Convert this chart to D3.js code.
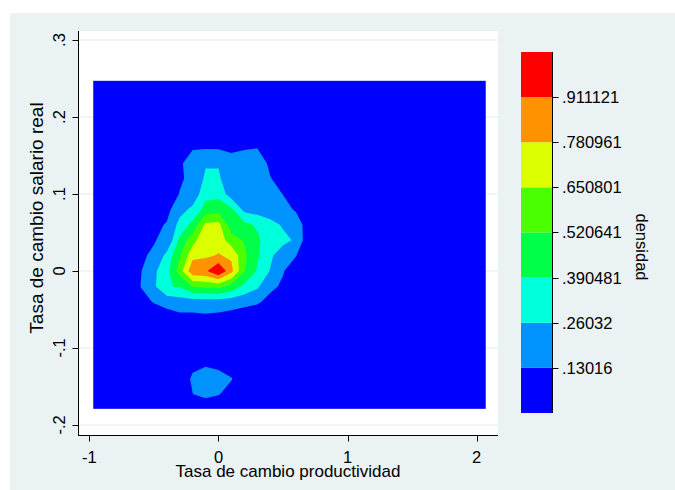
<!DOCTYPE html>
<html><head><meta charset="utf-8">
<script src="https://cdn.jsdelivr.net/npm/d3@7"></script>
<style>
body{margin:0;background:#fff;}
svg{display:block;}
text{font-family:"Liberation Sans", Arial, sans-serif;fill:#000;}
</style>
</head><body>
<svg id="c" width="675" height="490"></svg>
<script>
// ---------- data ----------
const xTicks = [-1, 0, 1, 2];
const xTickLabels = ["-1", "0", "1", "2"];
const yTicks = [-0.2, -0.1, 0, 0.1, 0.2, 0.3];
const yTickLabels = ["-.2", "-.1", "0", ".1", ".2", ".3"];
const levels = [0.13016, 0.26032, 0.390481, 0.520641, 0.650801, 0.780961, 0.911121];
const levelLabels = [".13016", ".26032", ".390481", ".520641", ".650801", ".780961", ".911121"];
const densityMax = 1.04128;
const bandColors = ["#0000ff", "#0092ff", "#00ffdb", "#00ff49", "#49ff00", "#dbff00", "#ff9200", "#ff0000"];
const extentX = [-0.97, 2.07];
const extentY = [-0.179, 0.247];
const xTitle = "Tasa de cambio productividad";
const yTitle = "Tasa de cambio salario real";
const legendTitle = "densidad";

// density estimates read at grid nodes (columns = gridX, rows = gridY)
const gridX = [-0.8, -0.7, -0.6, -0.5, -0.4, -0.3, -0.2, -0.1, 0, 0.1, 0.2, 0.3, 0.4, 0.5, 0.6, 0.7, 0.8];
const gridY = [0.2, 0.18, 0.16, 0.14, 0.12, 0.1, 0.08, 0.06, 0.04, 0.02, 0, -0.02, -0.04, -0.06, -0.08, -0.1, -0.12, -0.14, -0.16, -0.18];
const density = [
  [0,0,0,0,0,0,0,0,0,0,0,0,0,0,0,0,0],
  [0,0,0,0,0,0.01,0.04,0.04,0.04,0.04,0.04,0.05,0.03,0,0,0,0],
  [0,0,0,0,0.01,0.06,0.12,0.12,0.118,0.11,0.12,0.128,0.08,0.03,0,0,0],
  [0,0,0,0,0.04,0.11,0.19,0.25,0.25,0.17,0.19,0.19,0.11,0.05,0.01,0,0],
  [0,0,0,0,0.05,0.115,0.16,0.28,0.28,0.17,0.18,0.18,0.135,0.09,0.03,0,0],
  [0,0,0,0.02,0.06,0.135,0.17,0.35,0.35,0.19,0.19,0.19,0.17,0.128,0.06,0.01,0],
  [0,0,0,0.03,0.094,0.215,0.29,0.44,0.47,0.42,0.22,0.2,0.19,0.16,0.12,0.04,0],
  [0,0,0.03,0.1,0.14,0.3,0.43,0.68,0.69,0.45,0.43,0.37,0.3,0.247,0.18,0.08,0.02],
  [0,0,0.05,0.128,0.14,0.42,0.6,0.76,0.73,0.58,0.51,0.42,0.3,0.29,0.245,0.03,0],
  [0,0.04,0.126,0.135,0.3,0.51,0.74,0.76,0.79,0.76,0.55,0.41,0.28,0.2,0.135,0.03,0],
  [0,0.04,0.125,0.235,0.345,0.58,0.88,0.89,1.04,0.82,0.53,0.375,0.255,0.14,0.04,0,0],
  [0,0.01,0.135,0.237,0.382,0.4,0.53,0.55,0.56,0.48,0.36,0.28,0.16,0.11,0.03,0,0],
  [0,0,0.08,0.14,0.18,0.2,0.2,0.2,0.2,0.19,0.17,0.15,0.09,0.02,0,0,0],
  [0,0,0,0.04,0.07,0.1,0.1,0.11,0.1,0.08,0.06,0.04,0,0,0,0,0],
  [0,0,0,0,0,0,0,0,0,0,0,0,0,0,0,0,0],
  [0,0,0,0,0,0,0,0,0,0,0,0,0,0,0,0,0],
  [0,0,0,0,0,0.02,0.1,0.11,0.085,0.03,0,0,0,0,0,0,0],
  [0,0,0,0,0,0.05,0.15,0.2,0.19,0.14,0.03,0,0,0,0,0,0],
  [0,0,0,0,0,0.03,0.128,0.17,0.14,0.06,0,0,0,0,0,0,0],
  [0,0,0,0,0,0,0,0.02,0,0,0,0,0,0,0,0,0]
];

// ---------- layout ----------
const W = 675, H = 490;
const svg = d3.select("#c");
const FS = 16.5;

svg.append("rect").attr("x", 10).attr("y", 13).attr("width", W - 10).attr("height", H - 13).attr("fill", "#eaf2f3");

const plot = {left: 78, right: 498, top: 31, bottom: 435};
svg.append("rect").attr("x", plot.left).attr("y", plot.top)
  .attr("width", plot.right - plot.left).attr("height", plot.bottom - plot.top).attr("fill", "#ffffff");

const x = d3.scaleLinear().domain([-1.088, 2.165]).range([plot.left, plot.right]);
const y = d3.scaleLinear().domain([-0.213, 0.3117]).range([plot.bottom, plot.top]);

// gridlines
svg.append("g").selectAll("line").data(yTicks).join("line")
  .attr("x1", plot.left).attr("x2", plot.right)
  .attr("y1", d => y(d)).attr("y2", d => y(d))
  .attr("stroke", "#e2ebee").attr("stroke-width", 1);

// base (lowest band) rectangle over the estimation grid
svg.append("rect")
  .attr("x", x(extentX[0])).attr("y", y(extentY[1]))
  .attr("width", x(extentX[1]) - x(extentX[0]))
  .attr("height", y(extentY[0]) - y(extentY[1]))
  .attr("fill", bandColors[0]);

// contours
const nx = gridX.length, ny = gridY.length;
const contours = d3.contours().size([nx, ny]).thresholds(levels)(density.flat());
const stepX = gridX[1] - gridX[0], stepY = gridY[1] - gridY[0];
const proj = d3.geoTransform({
  point(px, py) {
    this.stream.point(x(gridX[0] + (px - 0.5) * stepX), y(gridY[0] + (py - 0.5) * stepY));
  }
});
const path = d3.geoPath(proj);
svg.append("g").selectAll("path").data(contours).join("path")
  .attr("d", path)
  .attr("fill", d => bandColors[levels.indexOf(d.value) + 1]);

// axes
const ax = svg.append("g").attr("stroke", "#000").attr("stroke-width", 1);
ax.append("line").attr("x1", plot.left + 0.5).attr("x2", plot.left + 0.5).attr("y1", plot.top).attr("y2", plot.bottom + 0.5);
ax.append("line").attr("x1", plot.left).attr("x2", plot.right).attr("y1", plot.bottom + 0.5).attr("y2", plot.bottom + 0.5);
ax.selectAll(".yt").data(yTicks).join("line")
  .attr("x1", plot.left - 5.5).attr("x2", plot.left + 0.5)
  .attr("y1", d => Math.round(y(d)) + 0.5).attr("y2", d => Math.round(y(d)) + 0.5);
ax.selectAll(".xt").data(xTicks).join("line")
  .attr("x1", d => Math.round(x(d)) + 0.5).attr("x2", d => Math.round(x(d)) + 0.5)
  .attr("y1", plot.bottom + 0.5).attr("y2", plot.bottom + 6.5);

svg.append("g").selectAll("text").data(yTicks).join("text")
  .attr("transform", d => `translate(65,${y(d)}) rotate(-90)`)
  .attr("text-anchor", "middle").attr("font-size", FS)
  .text((d, i) => yTickLabels[i]);

svg.append("g").selectAll("text").data(xTicks).join("text")
  .attr("x", d => x(d)).attr("y", 462.5)
  .attr("text-anchor", "middle").attr("font-size", FS)
  .text((d, i) => xTickLabels[i]);

svg.append("text").attr("x", (plot.left + plot.right) / 2).attr("y", 477)
  .attr("text-anchor", "middle").attr("font-size", 17).text(xTitle);

svg.append("text").attr("transform", `translate(43,218) rotate(-90)`)
  .attr("text-anchor", "middle").attr("font-size", 19).text(yTitle);

// legend
const lg = {left: 521, right: 552, top: 52, bottom: 413};
const ly = d3.scaleLinear().domain([0, densityMax]).range([lg.bottom, lg.top]);
const bounds = [0, ...levels, densityMax];
svg.append("g").selectAll("rect").data(bandColors).join("rect")
  .attr("x", lg.left).attr("width", lg.right - lg.left)
  .attr("y", (d, i) => ly(bounds[i + 1]))
  .attr("height", (d, i) => ly(bounds[i]) - ly(bounds[i + 1]))
  .attr("fill", d => d);
const lax = svg.append("g").attr("stroke", "#000").attr("stroke-width", 1);
lax.append("line").attr("x1", lg.right + 0.5).attr("x2", lg.right + 0.5).attr("y1", lg.top).attr("y2", lg.bottom);
lax.selectAll(".lt").data(levels).join("line")
  .attr("x1", lg.right + 0.5).attr("x2", lg.right + 6.5)
  .attr("y1", d => Math.round(ly(d)) + 0.5).attr("y2", d => Math.round(ly(d)) + 0.5);
svg.append("g").selectAll("text").data(levels).join("text")
  .attr("x", 562).attr("y", d => ly(d) + 6)
  .attr("font-size", FS)
  .text((d, i) => levelLabels[i]);
svg.append("text").attr("transform", `translate(636,247) rotate(90)`)
  .attr("text-anchor", "middle").attr("font-size", FS).text(legendTitle);
</script>
</body></html>
